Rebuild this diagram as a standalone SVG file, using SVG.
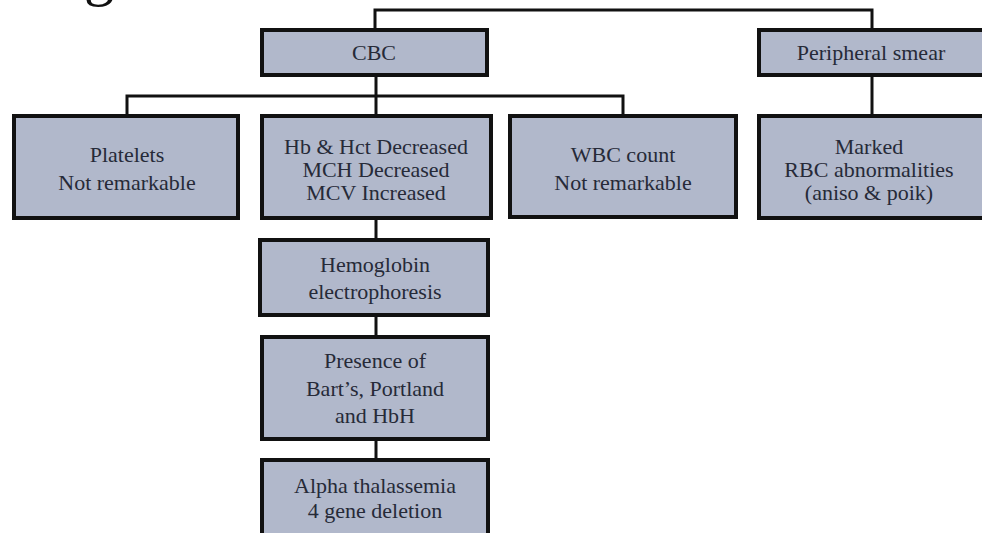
<svg xmlns="http://www.w3.org/2000/svg" width="982" height="533" viewBox="0 0 982 533">
  <style>
    .box { fill: #b1b8cb; stroke: #111111; stroke-width: 4; }
    .conn { fill: none; stroke: #111111; stroke-width: 3; }
    .lbl { font-family: "Liberation Serif", "DejaVu Serif", serif; font-size: 22px; fill: #262a38; text-anchor: middle; }
    .title { font-family: "Liberation Serif", "DejaVu Serif", serif; font-size: 60px; fill: #111111; }
  </style>
  <rect width="982" height="533" fill="#ffffff"/>
  <text class="title" x="84" y="-6">g</text>

  <g id="connectors">
    <path class="conn" d="M375,30 V10 H872 V30"/>
    <path class="conn" d="M376,75 V96"/>
    <path class="conn" d="M127,116 V96 H623 V116"/>
    <path class="conn" d="M376,96 V116"/>
    <path class="conn" d="M872,75 V116"/>
    <path class="conn" d="M376,218 V240"/>
    <path class="conn" d="M376,315 V337"/>
    <path class="conn" d="M376,439 V460"/>
  </g>

  <g id="cbc">
    <rect class="box" x="262" y="30" width="225" height="45"/>
    <text class="lbl" x="374" y="60">CBC</text>
  </g>
  <g id="peripheral-smear">
    <rect class="box" x="759" y="30" width="300" height="45"/>
    <text class="lbl" x="871" y="60">Peripheral smear</text>
  </g>
  <g id="platelets">
    <rect class="box" x="14" y="116" width="224" height="102"/>
    <text class="lbl" x="127" y="162">Platelets</text>
    <text class="lbl" x="127" y="190">Not remarkable</text>
  </g>
  <g id="hb-hct">
    <rect class="box" x="262" y="116" width="229" height="102"/>
    <text class="lbl" x="376" y="154">Hb &amp; Hct Decreased</text>
    <text class="lbl" x="376" y="177">MCH Decreased</text>
    <text class="lbl" x="376" y="200">MCV Increased</text>
  </g>
  <g id="wbc">
    <rect class="box" x="510" y="116" width="226" height="101"/>
    <text class="lbl" x="623" y="162">WBC count</text>
    <text class="lbl" x="623" y="190">Not remarkable</text>
  </g>
  <g id="rbc-abnormalities">
    <rect class="box" x="759" y="116" width="300" height="102"/>
    <text class="lbl" x="869" y="154">Marked</text>
    <text class="lbl" x="869" y="177">RBC abnormalities</text>
    <text class="lbl" x="869" y="200">(aniso &amp; poik)</text>
  </g>
  <g id="hb-electrophoresis">
    <rect class="box" x="260" y="240" width="228" height="75"/>
    <text class="lbl" x="375" y="272">Hemoglobin</text>
    <text class="lbl" x="375" y="299">electrophoresis</text>
  </g>
  <g id="presence">
    <rect class="box" x="262" y="337" width="226" height="102"/>
    <text class="lbl" x="375" y="368">Presence of</text>
    <text class="lbl" x="375" y="396">Bart’s, Portland</text>
    <text class="lbl" x="375" y="423">and HbH</text>
  </g>
  <g id="alpha-thalassemia">
    <rect class="box" x="262" y="460" width="226" height="100"/>
    <text class="lbl" x="375" y="493">Alpha thalassemia</text>
    <text class="lbl" x="375" y="518">4 gene deletion</text>
  </g>
</svg>
